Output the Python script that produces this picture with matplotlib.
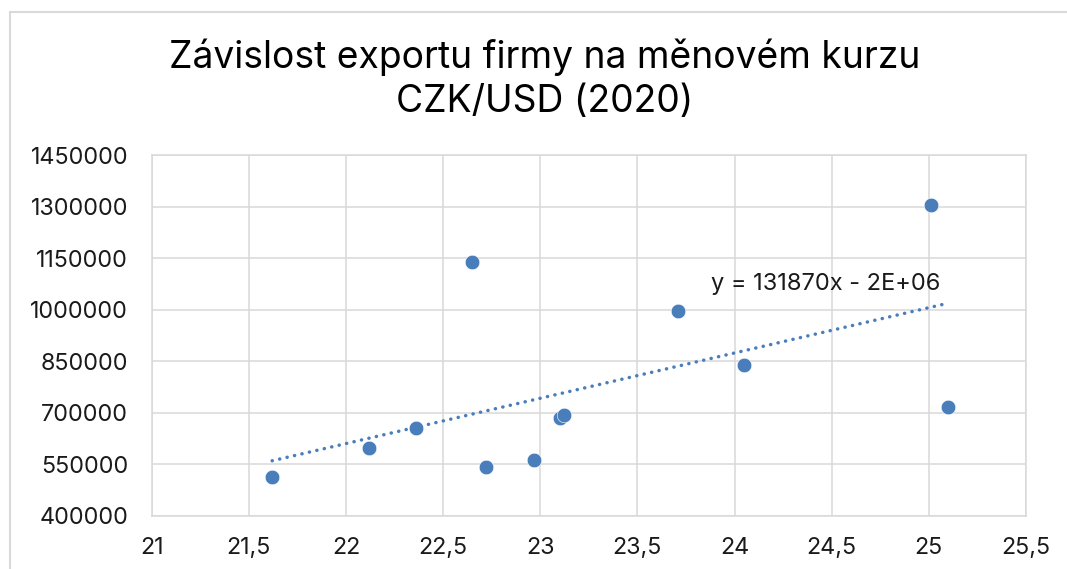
import numpy as np
import matplotlib
matplotlib.use("Agg")
import matplotlib.pyplot as plt
from matplotlib.patches import Rectangle

# Exchange rate CZK/USD and company export volume (2020)
kurz = [21.62, 22.12, 22.36, 22.65, 22.72, 22.97, 23.10, 23.12, 23.71, 24.05, 25.10, 25.01]
export = [513500, 596200, 654400, 1137600, 541800, 561300, 685300, 693100, 995000, 837800, 715500, 1304400]

x_ticks = [21, 21.5, 22, 22.5, 23, 23.5, 24, 24.5, 25, 25.5]
y_ticks = [400000, 550000, 700000, 850000, 1000000, 1150000, 1300000, 1450000]

# Linear trend: stated slope, intercept from the least-squares condition
slope = 131870
intercept = np.mean(export) - slope * np.mean(kurz)

plt.rcParams['font.family'] = ['Inter', 'DejaVu Sans']

W, H = 1067, 569
fig = plt.figure(figsize=(W / 100, H / 100), dpi=100)
fig.patch.set_facecolor('white')

grid_c = '#d9d9d9'
pt_c = '#4a7ebb'

# chart frame
fig.add_artist(Rectangle((10 / W, -0.1), 1.2, 1 - 12 / H + 0.1, transform=fig.transFigure,
                         fill=False, edgecolor=grid_c, linewidth=1.5))

ax = fig.add_axes([151.7 / W, 1 - 515.7 / H, (1026 - 151.7) / W, (515.7 - 155) / H])
ax.set_xlim(x_ticks[0], x_ticks[-1])
ax.set_ylim(y_ticks[0], y_ticks[-1])
ax.set_xticks(x_ticks)
ax.set_yticks(y_ticks)
ax.set_xticklabels([f"{v:g}".replace('.', ',') for v in x_ticks])
ax.set_yticklabels([f"{v:d}" for v in y_ticks])
ax.tick_params(length=0, labelsize=16.8, colors='#1a1a1a')
ax.tick_params(axis='y', pad=17)
ax.tick_params(axis='x', pad=15)
ax.grid(True, color=grid_c, linewidth=1.1)
ax.set_axisbelow(True)
for s in ax.spines.values():
    s.set_color(grid_c)
    s.set_linewidth(1.1)

xt = np.array([min(kurz), max(kurz)])
ax.plot(xt, slope * xt + intercept, color=pt_c, linewidth=2.5,
        linestyle=(0, (0.05, 2.15)), dash_capstyle='round', zorder=2)
ax.scatter(kurz, export, s=110, color=pt_c, edgecolor='white', linewidth=0.4, zorder=3)

sign = '-' if intercept < 0 else '+'
ax.text(24.47, 1074500, f"y = {slope}x {sign} {abs(intercept):.0E}", fontsize=17,
        ha='center', va='center', color='#1a1a1a')

fig.text(545 / W, 1 - 79 / H, "Závislost exportu firmy na měnovém kurzu\nCZK/USD (2020)",
         ha='center', va='center', fontsize=26.8, color='black', linespacing=1.3)

fig.savefig('out.png', dpi=100, facecolor='white')
